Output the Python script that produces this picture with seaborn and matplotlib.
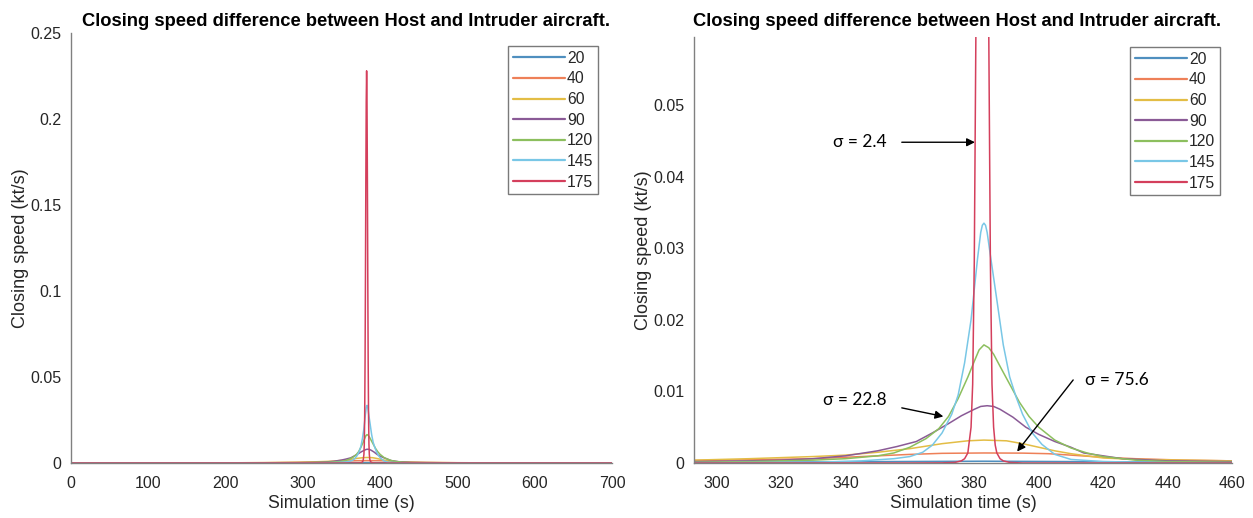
import numpy as np
import pandas as pd
import matplotlib
matplotlib.use("Agg")
import matplotlib.pyplot as plt
from matplotlib.lines import Line2D
import seaborn as sns

# ---------------- data ----------------
series_names = ["20", "40", "60", "90", "120", "145", "175"]
series_colors = ["#4f8fbf", "#ee8058", "#e3bd45", "#8a5a96", "#8cbf5e", "#79c7e6", "#d43f5c"]

t_20 = [0, 200, 300, 340, 383, 420, 460, 550, 700]
v_20 = [0, 0.00002, 0.00008, 0.00018, 0.00025, 0.00018, 0.0001, 0.00003, 0]

t_40 = [0, 100, 200, 250, 293, 310, 330, 345, 360, 370, 383, 395, 403, 410, 420, 430, 445, 460, 500, 600, 700]
v_40 = [0.00002, 0.00004, 0.0001, 0.00018, 0.00035, 0.00045, 0.0006, 0.0009, 0.0012, 0.00135, 0.0014,
        0.00138, 0.0013, 0.0011, 0.0008, 0.0006, 0.0004, 0.0003, 0.00015, 0.00005, 0.00002]

t_60 = [0, 100, 200, 250, 293, 310, 330, 340, 350, 360, 370, 378, 383, 390, 395, 400, 405, 410, 420, 430,
        445, 460, 500, 600, 700]
v_60 = [0.00002, 0.00005, 0.0001, 0.0002, 0.0004, 0.0006, 0.0009, 0.0011, 0.0015, 0.002, 0.0027, 0.0031,
        0.0032, 0.0031, 0.0027, 0.0022, 0.0017, 0.0013, 0.0007, 0.0005, 0.0004, 0.0003, 0.00015, 0.00005, 0.00002]

t_90 = [0, 200, 250, 293, 310, 320, 330, 340, 350, 356, 362, 367, 372, 376, 380, 382, 384, 386, 388, 392,
        396, 400, 405, 410, 414, 420, 426, 440, 460, 500, 600, 700]
v_90 = [0.00001, 0.00005, 0.0001, 0.0002, 0.0003, 0.0004, 0.0006, 0.001, 0.0017, 0.0023, 0.003, 0.0042,
        0.0055, 0.0066, 0.0075, 0.0079, 0.008, 0.0079, 0.0075, 0.0064, 0.005, 0.004, 0.003, 0.0022, 0.0014,
        0.001, 0.0006, 0.0003, 0.0002, 0.00006, 0.00001, 0]

t_120 = [0, 250, 293, 310, 320, 330, 340, 350, 355, 360, 365, 369, 372, 375, 378, 380, 381.5, 383, 384.5,
         386, 388, 391, 394, 397, 400, 405, 410, 415, 420, 430, 440, 460, 500, 700]
v_120 = [0, 0.00005, 0.0001, 0.0002, 0.0003, 0.0004, 0.0006, 0.001, 0.0014, 0.0022, 0.0034, 0.0048, 0.0065,
         0.009, 0.012, 0.0142, 0.0158, 0.0165, 0.0161, 0.0152, 0.0135, 0.011, 0.0085, 0.0065, 0.005, 0.0032,
         0.0021, 0.0014, 0.0009, 0.0004, 0.0002, 0.0001, 0.00003, 0]

t_145 = [0, 250, 300, 330, 345, 355, 360, 364, 367, 370, 373, 375, 377, 379, 381, 382, 382.5, 383, 383.5,
         384, 385, 387, 389, 391, 393, 395, 398, 401, 405, 410, 420, 440, 500, 700]
v_145 = [0, 0.00002, 0.00005, 0.0001, 0.0003, 0.0006, 0.0009, 0.0015, 0.0025, 0.0042, 0.0068, 0.0095, 0.014,
         0.02, 0.0285, 0.0322, 0.0332, 0.0335, 0.0332, 0.0322, 0.029, 0.0228, 0.0165, 0.012, 0.0092, 0.0068,
         0.0042, 0.0026, 0.0012, 0.0005, 0.0002, 0.00005, 0.00001, 0]

t_175 = [0, 300, 360, 370, 374, 376, 377, 378, 379, 379.5, 380, 380.5, 381, 381.5, 382, 382.5, 383, 383.5,
         384, 384.5, 385, 385.5, 386, 386.5, 387, 388, 389, 391, 395, 410, 700]
v_175 = [0, 0, 0, 0.00002, 0.00008, 0.0003, 0.0006, 0.0014, 0.005, 0.011, 0.028, 0.06, 0.108, 0.165, 0.21,
         0.228, 0.21, 0.165, 0.108, 0.06, 0.028, 0.011, 0.005, 0.0025, 0.0014, 0.0006, 0.0003, 0.00008, 0,
         0, 0]

times = [t_20, t_40, t_60, t_90, t_120, t_145, t_175]
values = [v_20, v_40, v_60, v_90, v_120, v_145, v_175]

left_xticks = [0, 100, 200, 300, 400, 500, 600, 700]
left_yticks = [0, 0.05, 0.1, 0.15, 0.2, 0.25]
left_yticklabels = ["0", "0.05", "0.1", "0.15", "0.2", "0.25"]
right_xticks = [300, 320, 340, 360, 380, 400, 420, 440, 460]
right_yticks = [0, 0.01, 0.02, 0.03, 0.04, 0.05]
right_yticklabels = ["0", "0.01", "0.02", "0.03", "0.04", "0.05"]

title_text = "Closing speed difference between Host and Intruder aircraft."
xlabel_text = "Simulation time (s)"
ylabel_text = "Closing speed (kt/s)"

frames = []
for name, t, v in zip(series_names, times, values):
    frames.append(pd.DataFrame({"time": t, "speed": v, "series": name}))
df = pd.concat(frames, ignore_index=True)

# ---------------- style ----------------
sns.set_style("white")
plt.rcParams["font.family"] = ["Liberation Sans", "DejaVu Sans"]

W, H = 1253, 518
fig = plt.figure(figsize=(W / 100, H / 100), dpi=100)

def frac_box(x0, x1, ytop, ybot):
    return [x0 / W, 1 - ybot / H, (x1 - x0) / W, (ybot - ytop) / H]

ax1 = fig.add_axes(frac_box(71, 612, 33, 463))
ax2 = fig.add_axes(frac_box(694, 1232, 37, 463))

palette = dict(zip(series_names, series_colors))

for ax in (ax1, ax2):
    sns.lineplot(data=df, x="time", y="speed", hue="series", hue_order=series_names,
                 palette=palette, estimator=None, sort=False, linewidth=1.1,
                 legend=False, ax=ax)

spine_color = "#808080"
for ax in (ax1, ax2):
    for s in ("top", "right"):
        ax.spines[s].set_visible(False)
    for s in ("left", "bottom"):
        ax.spines[s].set_color(spine_color)
        ax.spines[s].set_linewidth(1.0)
    ax.tick_params(direction="in", length=4, width=0.8, color="#404040",
                   labelsize=11.5, labelcolor="#262626", pad=7)
    ax.tick_params(axis="x", pad=9)
    ax.set_xlabel(xlabel_text, fontsize=12.8, color="#262626", labelpad=3)
    ax.set_ylabel(ylabel_text, fontsize=13, color="#262626", labelpad=1)
    ax.grid(False)

# titles (both sit at about the same height in the reference)
fig.text(346 / W, 1 - 21 / H, title_text, ha="center", va="center",
         fontsize=13.2, fontweight="bold", color="black")
fig.text(957 / W, 1 - 22 / H, title_text, ha="center", va="center",
         fontsize=13.2, fontweight="bold", color="black")

ax1.set_xlim(0, 700)
ax1.set_ylim(0, 0.25)
ax1.set_xticks(left_xticks)
ax1.set_yticks(left_yticks)
ax1.set_yticklabels(left_yticklabels)

ax2.set_xlim(293, 460)
ax2.set_ylim(0, 0.0595)
ax2.set_xticks(right_xticks)
ax2.set_yticks(right_yticks)
ax2.set_yticklabels(right_yticklabels)

handles = [Line2D([0], [0], color=c, lw=1.6) for c in series_colors]
legend_specs = [(ax1, ((598 - 71) / 541, (463 - 46) / 430)),
                (ax2, ((1220 - 694) / 538, (463 - 47) / 426))]
for ax, anchor in legend_specs:
    leg = ax.legend(handles, series_names, loc="upper right", bbox_to_anchor=anchor,
                    fontsize=11.3, frameon=True, fancybox=False, framealpha=1,
                    edgecolor="#7a7a7a", handlelength=3.3, handletextpad=0.15,
                    labelspacing=0.36, borderpad=0.3, borderaxespad=0)
    leg.get_frame().set_linewidth(1.0)

ann_font = dict(fontsize=12.5, family=["Lato", "DejaVu Sans"], color="black")
arrow = dict(arrowstyle="-|>", color="black", lw=1.0, mutation_scale=12, shrinkA=0, shrinkB=0)
ax2.text(344.5, 0.0448, "\u03c3 = 2.4", ha="center", va="center", **ann_font)
ax2.annotate("", xy=(380.2, 0.0448), xytext=(357.5, 0.0448), arrowprops=arrow)
ax2.text(342.9, 0.0088, "\u03c3 = 22.8", ha="center", va="center", **ann_font)
ax2.annotate("", xy=(370.4, 0.0065), xytext=(357.5, 0.0077), arrowprops=arrow)
ax2.text(424.3, 0.0116, "\u03c3 = 75.6", ha="center", va="center", **ann_font)
ax2.annotate("", xy=(393.3, 0.0016), xytext=(410.7, 0.0116), arrowprops=arrow)

fig.savefig("out.png", dpi=100)
